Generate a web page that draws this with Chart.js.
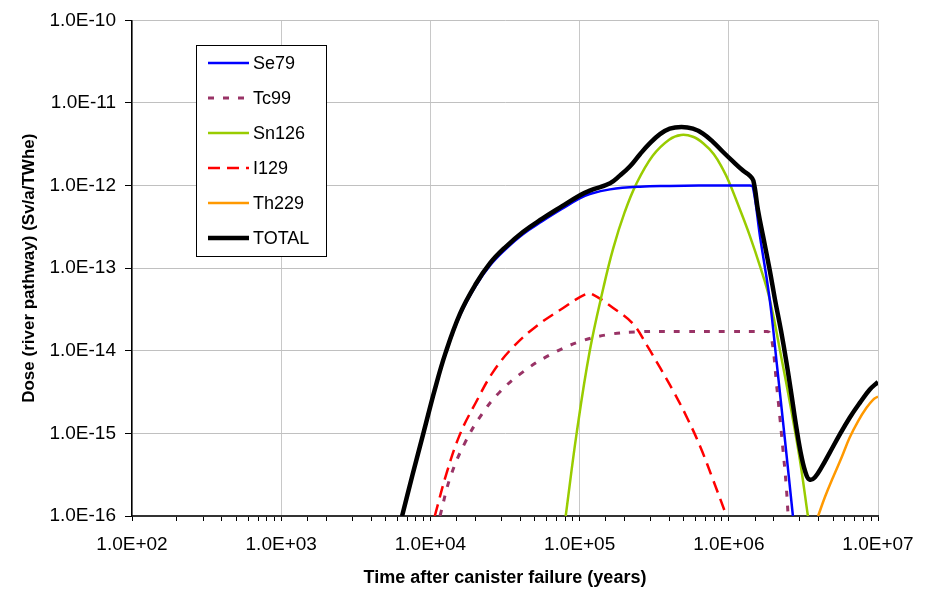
<!DOCTYPE html>
<html>
<head>
<meta charset="utf-8">
<title>Dose (river pathway)</title>
<script src="https://cdn.jsdelivr.net/npm/chart.js@4/dist/chart.umd.min.js"></script>
<style>
  body { margin: 0; background: #fff; }
  #dose-chart { display: block; }
</style>
</head>
<body>
<canvas id="dose-chart" width="930" height="590"></canvas>
<script>
// Dose curves per nuclide, years after canister failure vs Sv/a/TWhe
const se79Years = [6.46e3, 7.59e3, 8.97e3, 1.07e4, 1.26e4, 1.58e4, 2.0e4, 2.51e4, 3.16e4, 4.17e4, 5.62e4, 7.59e4, 1e5, 1.17e5, 1.6e5, 2.54e5, 4.02e5, 6.3e5, 1e6, 1.38e6, 1.45e6, 1.62e6, 1.88e6, 2.09e6, 2.37e6, 2.69e6];
const se79Dose = [1e-16, 3.16e-16, 1e-15, 3.39e-15, 9.2e-15, 2.7e-14, 6.0e-14, 1.08e-13, 1.67e-13, 2.58e-13, 3.7e-13, 5.2e-13, 7.0e-13, 7.9e-13, 9.0e-13, 9.7e-13, 9.9e-13, 1.0e-12, 1.0e-12, 1.0e-12, 9.6e-13, 2.4e-13, 4.2e-14, 7.4e-15, 8.9e-16, 1e-16];

const tc99Years = [1.16e4, 1.36e4, 1.71e4, 2.21e4, 2.93e4, 4.2e4, 6.31e4, 1e5, 1.58e5, 2.51e5, 5e5, 1e6, 1.6e6, 1.8e6, 1.88e6, 1.98e6, 2.09e6, 2.2e6, 2.31e6, 2.42e6, 2.5e6];
const tc99Dose = [1e-16, 2.95e-16, 7.8e-16, 1.7e-15, 3.2e-15, 5.6e-15, 8.9e-15, 1.29e-14, 1.58e-14, 1.7e-14, 1.71e-14, 1.71e-14, 1.71e-14, 1.71e-14, 1.65e-14, 1.07e-14, 3.9e-15, 1.55e-15, 6.2e-16, 2.45e-16, 1e-16];

const sn126Years = [8.07e4, 9.55e4, 1.17e5, 1.45e5, 1.68e5, 2.0e5, 2.4e5, 3.09e5, 3.98e5, 4.79e5, 5.75e5, 6.76e5, 7.94e5, 9.12e5, 1e6, 1.17e6, 1.38e6, 1.62e6, 1.88e6, 2.25e6, 2.63e6, 3.0e6, 3.39e6];
const sn126Dose = [1e-16, 1.0e-15, 1.0e-14, 6.0e-14, 1.74e-13, 4.7e-13, 1.05e-12, 2.3e-12, 3.6e-12, 4.1e-12, 3.9e-12, 3.24e-12, 2.4e-12, 1.58e-12, 1.12e-12, 5.5e-13, 2.5e-13, 1.05e-13, 4.2e-14, 8.3e-15, 1.86e-15, 4.7e-16, 1e-16];

const i129Years = [1.07e4, 1.29e4, 1.58e4, 2.0e4, 2.64e4, 3.6e4, 5.16e4, 7.76e4, 1.11e5, 1.23e5, 1.68e5, 2.29e5, 2.82e5, 3.47e5, 4.27e5, 5.25e5, 6.46e5, 7.87e5, 9.66e5];
const i129Dose = [1e-16, 3.4e-16, 9.8e-16, 2.3e-15, 5.6e-15, 1.12e-14, 2.0e-14, 3.3e-14, 4.9e-14, 4.8e-14, 3.3e-14, 2.1e-14, 1.17e-14, 6.2e-15, 3.2e-15, 1.55e-15, 6.8e-16, 2.7e-16, 1e-16];

const th229Years = [3.97e6, 4.41e6, 5.0e6, 5.7e6, 6.46e6, 7.36e6, 8.37e6, 9.29e6, 1e7];
const th229Dose = [1e-16, 1.7e-16, 2.95e-16, 5.1e-16, 8.9e-16, 1.41e-15, 2.04e-15, 2.57e-15, 2.8e-15];

const totalYears = [6.46e3, 7.59e3, 8.97e3, 1.07e4, 1.26e4, 1.58e4, 2.0e4, 2.51e4, 3.16e4, 4.17e4, 5.62e4, 7.59e4, 1e5, 1.17e5, 1.6e5, 1.86e5, 2.17e5, 2.54e5, 2.95e5, 3.44e5, 4.02e5, 4.82e5, 5.75e5, 6.71e5, 7.83e5, 9.12e5, 1.07e6, 1.25e6, 1.38e6, 1.46e6, 1.57e6, 1.7e6, 1.88e6, 2.04e6, 2.24e6, 2.43e6, 2.63e6, 2.84e6, 3.08e6, 3.32e6, 3.5e6, 3.78e6, 4.19e6, 4.76e6, 5.56e6, 6.46e6, 7.55e6, 8.81e6, 1e7];
const totalDose = [1e-16, 3.16e-16, 1e-15, 3.39e-15, 9.3e-15, 2.82e-14, 6.3e-14, 1.15e-13, 1.78e-13, 2.75e-13, 3.98e-13, 5.6e-13, 7.6e-13, 8.7e-13, 1.07e-12, 1.32e-12, 1.7e-12, 2.4e-12, 3.24e-12, 4.17e-12, 4.9e-12, 5.13e-12, 4.9e-12, 4.27e-12, 3.39e-12, 2.57e-12, 1.95e-12, 1.51e-12, 1.32e-12, 1.15e-12, 5.0e-13, 2.4e-13, 9.5e-14, 4.17e-14, 1.74e-14, 7.4e-15, 2.95e-15, 1.17e-15, 5.1e-16, 3.1e-16, 2.75e-16, 2.95e-16, 3.9e-16, 5.9e-16, 9.8e-16, 1.55e-15, 2.34e-15, 3.4e-15, 4.2e-15];

const xTicks = [1e2, 1e3, 1e4, 1e5, 1e6, 1e7];
const yTicks = [1e-16, 1e-15, 1e-14, 1e-13, 1e-12, 1e-11, 1e-10];

const FONT = '"Liberation Sans", Arial, sans-serif';

const toPoints = (xs, ys) => xs.map((x, i) => ({ x, y: ys[i] }));

const isDecade = (v) => {
  const e = Math.log10(v);
  return Math.abs(e - Math.round(e)) < 1e-6;
};

const sciLabel = (v) => {
  const exp = Math.round(Math.log10(v));
  const sign = exp < 0 ? '-' : '+';
  return `1.0E${sign}${String(Math.abs(exp)).padStart(2, '0')}`;
};

const series = [
  { label: 'Se79', xs: se79Years, ys: se79Dose, color: '#0000ff', width: 2.5, dash: [] },
  { label: 'Tc99', xs: tc99Years, ys: tc99Dose, color: '#993366', width: 3, dash: [6, 9] },
  { label: 'Sn126', xs: sn126Years, ys: sn126Dose, color: '#99cc00', width: 2.5, dash: [] },
  { label: 'I129', xs: i129Years, ys: i129Dose, color: '#ff0000', width: 2.5, dash: [12, 7] },
  { label: 'Th229', xs: th229Years, ys: th229Dose, color: '#ff9900', width: 2.5, dash: [] },
  { label: 'TOTAL', xs: totalYears, ys: totalDose, color: '#000000', width: 4.5, dash: [] },
];

// legend box drawn inside the plot, upper left
const boxLegend = {
  id: 'boxLegend',
  afterDraw(chart) {
    const ctx = chart.ctx;
    const left = 196, top = 45, w = 130, h = 211;
    ctx.save();
    ctx.fillStyle = '#fff';
    ctx.fillRect(left, top, w, h);
    ctx.strokeStyle = '#000';
    ctx.lineWidth = 1;
    ctx.strokeRect(left + 0.5, top + 0.5, w, h);

    ctx.font = `18px ${FONT}`;
    ctx.textBaseline = 'middle';
    chart.data.datasets.forEach((ds, i) => {
      const y = 63 + i * 35;
      ctx.beginPath();
      ctx.setLineDash(ds.borderDash || []);
      ctx.strokeStyle = ds.borderColor;
      ctx.lineWidth = ds.borderWidth;
      ctx.moveTo(208, y);
      ctx.lineTo(249, y);
      ctx.stroke();
      ctx.setLineDash([]);
      ctx.fillStyle = '#000';
      ctx.fillText(ds.label, 253, y + 1);
    });
    ctx.restore();
  }
};

new Chart(document.getElementById('dose-chart'), {
  type: 'line',
  data: {
    datasets: series.map((s) => ({
      label: s.label,
      data: toPoints(s.xs, s.ys),
      borderColor: s.color,
      backgroundColor: s.color,
      borderWidth: s.width,
      borderDash: s.dash,
      pointRadius: 0,
      fill: false,
      tension: 0.4,
      order: s.label === 'TOTAL' ? 0 : 1,
    })),
  },
  options: {
    responsive: false,
    animation: false,
    devicePixelRatio: 1,
    layout: { padding: { left: 0, right: 52, top: 14, bottom: 0 } },
    plugins: {
      legend: { display: false },
      tooltip: { enabled: false },
    },
    scales: {
      x: {
        type: 'logarithmic',
        min: xTicks[0],
        max: xTicks[xTicks.length - 1],
        afterFit: (scale) => { scale.height = 74; },
        border: { color: '#333', width: 2 },
        grid: {
          color: (c) => (c.tick && isDecade(c.tick.value) ? '#c8c8c8' : 'rgba(0,0,0,0)'),
          tickColor: '#000',
          tickLength: 5,
        },
        ticks: {
          autoSkip: false,
          maxRotation: 0,
          padding: 12,
          color: '#000',
          font: { family: FONT, size: 19 },
          callback: (v) => (isDecade(v) ? sciLabel(v) : ''),
        },
        title: {
          display: true,
          text: 'Time after canister failure (years)',
          color: '#000',
          font: { family: FONT, size: 18, weight: 'bold' },
          padding: { top: 0, bottom: 1 },
        },
      },
      y: {
        type: 'logarithmic',
        min: yTicks[0],
        max: yTicks[yTicks.length - 1],
        afterFit: (scale) => { scale.width = 132; },
        afterBuildTicks: (scale) => {
          scale.ticks = yTicks.map((v) => ({ value: v }));
        },
        border: { color: '#000', width: 1.5 },
        grid: {
          color: '#c0c0c0',
          tickColor: '#000',
          tickLength: 7,
        },
        ticks: {
          autoSkip: false,
          padding: 9,
          color: '#000',
          font: { family: FONT, size: 19 },
          callback: (v) => sciLabel(v),
        },
        title: {
          display: true,
          text: 'Dose (river pathway) (Sv/a/TWhe)',
          color: '#000',
          font: { family: FONT, size: 17, weight: 'bold' },
          padding: { top: 19, bottom: 0 },
        },
      },
    },
  },
  plugins: [boxLegend],
});
</script>
</body>
</html>
